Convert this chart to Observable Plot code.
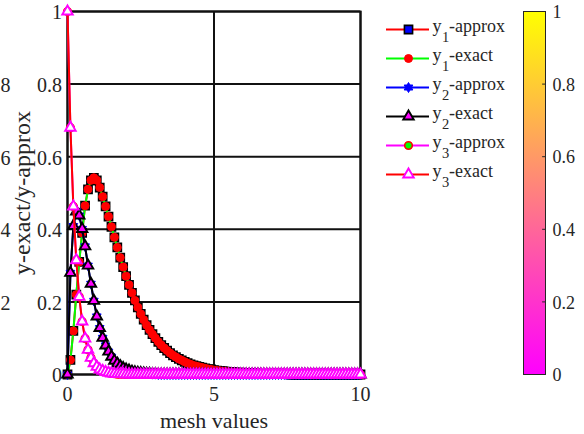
<!DOCTYPE html>
<html><head><meta charset="utf-8">
<script src="https://cdn.jsdelivr.net/npm/d3@7"></script>
<script src="https://cdn.jsdelivr.net/npm/@observablehq/plot@0.6"></script>
<style>
html,body{margin:0;padding:0;background:#fff;}
#wrap{position:relative;width:584px;height:434px;overflow:hidden;background:#fff;}
#wrap svg text, #wrap svg tspan{font-family:'Liberation Serif','Times New Roman',serif !important;}
</style></head><body>
<svg width="0" height="0" style="position:absolute"><defs><linearGradient id="spring" x1="0" y1="1" x2="0" y2="0"><stop offset="0" stop-color="#ff00ff"/><stop offset="1" stop-color="#ffff00"/></linearGradient></defs></svg>
<div id="wrap"></div>
<script>
// ---- data ----
const mesh = [
  0,0.1,0.2,0.3,0.4,0.5,0.6,0.7,0.8,0.9,
  1,1.1,1.2,1.3,1.4,1.5,1.6,1.7,1.8,1.9,
  2,2.1,2.2,2.3,2.4,2.5,2.6,2.7,2.8,2.9,
  3,3.1,3.2,3.3,3.4,3.5,3.6,3.7,3.8,3.9,
  4,4.1,4.2,4.3,4.4,4.5,4.6,4.7,4.8,4.9,
  5,5.1,5.2,5.3,5.4,5.5,5.6,5.7,5.8,5.9,
  6,6.1,6.2,6.3,6.4,6.5,6.6,6.7,6.8,6.9,
  7,7.1,7.2,7.3,7.4,7.5,7.6,7.7,7.8,7.9,
  8,8.1,8.2,8.3,8.4,8.5,8.6,8.7,8.8,8.9,
  9,9.1,9.2,9.3,9.4,9.5,9.6,9.7,9.8,9.9,
  10
];
const y1Exact = [
  0,0.04,0.12,0.22,0.31,0.39,0.465,0.51,0.535,0.542,
  0.535,0.515,0.49,0.463,0.435,0.407,0.378,0.35,0.322,0.296,
  0.271,0.247,0.225,0.204,0.185,0.167,0.151,0.136,0.123,0.111,
  0.100,0.090,0.081,0.073,0.066,0.059,0.053,0.048,0.043,0.039,
  0.035,0.031,0.028,0.025,0.023,0.021,0.019,0.017,0.015,0.014,
  0.012,0.011,0.010,0.009,0.008,0.007,0.007,0.006,0.005,0.005,
  0.004,0.004,0.003,0.003,0.003,0.002,0.002,0.002,0.002,0.001,
  0.001,0.001,0.001,0.001,0.001,0.001,0,0,0,0,
  0,0,0,0,0,0,0,0,0,0,
  0,0,0,0,0,0,0,0,0,0,
  0
];
const y1Approx = y1Exact;
const y2Exact = [
  0,0.280,0.409,0.449,0.438,0.401,0.353,0.300,0.250,0.203,
  0.160,0.128,0.101,0.080,0.063,0.049,0.038,0.030,0.023,0.018,
  0.014,0.011,0.008,0.006,0.005,0.004,0.003,0.002,0.002,0.001,
  0.001,0,0,0,0,0,0,0,0,0,
  0,0,0,0,0,0,0,0,0,0,
  0,0,0,0,0,0,0,0,0,0,
  0,0,0,0,0,0,0,0,0,0,
  0,0,0,0,0,0,0,0,0,0,
  0,0,0,0,0,0,0,0,0,0,
  0,0,0,0,0,0,0,0,0,0,
  0
];
const y2Approx = y2Exact;
const y3Exact = [
  1,0.68,0.463,0.315,0.214,0.146,0.099,0.068,0.046,0.031,
  0.021,0.014,0.010,0.007,0.005,0.003,0.002,0.001,0.001,0.001,
  0,0,0,0,0,0,0,0,0,0,
  0,0,0,0,0,0,0,0,0,0,
  0,0,0,0,0,0,0,0,0,0,
  0,0,0,0,0,0,0,0,0,0,
  0,0,0,0,0,0,0,0,0,0,
  0,0,0,0,0,0,0,0,0,0,
  0,0,0,0,0,0,0,0,0,0,
  0,0,0,0,0,0,0,0,0,0,
  0
];
const y3Approx = y3Exact;
const xTicks = [0, 5, 10];
const yTicks = [0, 0.2, 0.4, 0.6, 0.8, 1];
const cutTicks = [0.2, 0.4, 0.6, 0.8];
const cutLabels = ["2", "4", "6", "8"];
const cbTicks = [0, 0.2, 0.4, 0.6, 0.8, 1];
const seriesNames = ["y1-approx", "y1-exact", "y2-approx", "y2-exact", "y3-approx", "y3-exact"];

// ---- styles ----
const hexagram = {
  draw(ctx, size) {
    const R = Math.sqrt(size / Math.PI) * 1.25, r = R / Math.sqrt(3);
    for (let i = 0; i < 12; i++) {
      const a = Math.PI / 2 + i * Math.PI / 6, rr = i % 2 ? r : R;
      const px = rr * Math.cos(a), py = -rr * Math.sin(a);
      if (i) ctx.lineTo(px, py); else ctx.moveTo(px, py);
    }
    ctx.closePath();
  }
};
const series = [
  {name: seriesNames[0], y: y1Approx, line: "#ff0000", symbol: "square",   r: 4.6, fill: "#0000ff", edge: "#000000", sw: 1.6},
  {name: seriesNames[1], y: y1Exact,  line: "#00ff00", symbol: "circle",   r: 4.0, fill: "#ff0000", edge: "#ff0000", sw: 1},
  {name: seriesNames[2], y: y2Approx, line: "#0000ff", symbol: hexagram,   r: 4.0, fill: "#0000ff", edge: "#0000ff", sw: 1},
  {name: seriesNames[3], y: y2Exact,  line: "#000000", symbol: "triangle", r: 3.9, fill: "#ff00ff", edge: "#000000", sw: 1.9},
  {name: seriesNames[4], y: y3Approx, line: "#ff00ff", symbol: "circle",   r: 3.8, fill: "#00ff00", edge: "#ff0000", sw: 1.6},
  {name: seriesNames[5], y: y3Exact,  line: "#ff0000", symbol: "triangle", r: 3.9, fill: "#ffffff", edge: "#ff00ff", sw: 1.9}
];
const FONT = "'Liberation Serif', 'Times New Roman', serif";
const INK = "#262626";
const fmt = d => String(d);

// ---- main axes ----
const main = Plot.plot({
  width: 584, height: 434,
  marginLeft: 67, marginRight: 224, marginTop: 11, marginBottom: 60,
  x: {domain: [0, 10]},
  y: {domain: [0, 1]},
  style: {fontFamily: FONT, fontSize: "20px", color: INK, background: "transparent", overflow: "hidden"},
  marks: [
    Plot.gridX(xTicks, {stroke: "#111", strokeOpacity: 1, strokeWidth: 2}),
    Plot.gridY(yTicks, {stroke: "#111", strokeOpacity: 1, strokeWidth: 2}),
    Plot.frame({stroke: "#111", strokeWidth: 2}),
    Plot.axisX(xTicks, {tickSize: 0, tickPadding: 12, tickFormat: fmt, label: null, fontSize: 20, fontFamily: FONT}),
    Plot.axisY(yTicks, {tickSize: 0, tickPadding: 5.5, tickFormat: fmt, label: null, fontSize: 20, fontFamily: FONT, dy: 1.5}),
    Plot.text(cutTicks, {y: d => d, text: (d, i) => cutLabels[i], frameAnchor: "left", dx: -67, dy: 1.5, textAnchor: "start", lineAnchor: "middle", fontSize: 20, fontFamily: FONT, fill: INK}),
    ...series.flatMap(s => [
      Plot.line(mesh, {x: mesh, y: s.y, stroke: s.line, strokeWidth: 2}),
      Plot.dot(mesh, {x: mesh, y: s.y, symbol: s.symbol, r: s.r, fill: s.fill, stroke: s.edge, strokeWidth: s.sw})
    ]),
    Plot.text(["y-exact/y-approx"], {frameAnchor: "left", dx: -38, rotate: -90, textAnchor: "middle", lineAnchor: "bottom", fontSize: 24, fontFamily: FONT, fill: INK}),
    Plot.text(["mesh values"], {frameAnchor: "bottom", dy: 53, textAnchor: "middle", lineAnchor: "bottom", fontSize: 22, fontFamily: FONT, fill: INK})
  ]
});
main.style.position = "absolute"; main.style.left = "0px"; main.style.top = "0px";

// ---- legend ----
const legend = Plot.plot({
  width: 140, height: 434, margin: 0,
  x: {type: "identity"},
  y: {type: "point", domain: seriesNames, range: [26.7, 175.3], padding: 0, axis: null},
  style: {fontFamily: FONT, color: INK, background: "transparent"},
  marks: series.flatMap(s => [
    Plot.ruleY([s.name], {y: d => d, x1: 6, x2: 49, stroke: s.line, strokeWidth: 2}),
    Plot.dot([s.name], {y: d => d, x: 28, symbol: s.symbol, r: s.r, fill: s.fill, stroke: s.edge, strokeWidth: s.sw}),
    Plot.text([s.name], {y: d => d, x: 52, text: d => d.slice(0, 1), textAnchor: "start", lineAnchor: "bottom", dy: 2.8, fontSize: 18, fontFamily: FONT, fill: INK}),
    Plot.text([s.name], {y: d => d, x: 61.5, text: d => d.slice(1, 2), textAnchor: "start", lineAnchor: "bottom", dy: 12.8, fontSize: 14.5, fontFamily: FONT, fill: INK}),
    Plot.text([s.name], {y: d => d, x: 68.5, text: d => d.slice(2), textAnchor: "start", lineAnchor: "bottom", dy: 2.8, fontSize: 18, fontFamily: FONT, fill: INK})
  ])
});
legend.style.position = "absolute"; legend.style.left = "380px"; legend.style.top = "0px";

// ---- colorbar ----
const cbar = Plot.plot({
  width: 61, height: 434,
  marginLeft: 0, marginRight: 39, marginTop: 11, marginBottom: 60,
  x: {domain: [0, 1], axis: null},
  y: {domain: [0, 1]},
  style: {fontFamily: FONT, fontSize: "18px", color: INK, background: "transparent"},
  marks: [
    Plot.frame({fill: "url(#spring)", stroke: INK, strokeWidth: 1}),
    Plot.ruleY(cbTicks, {x1: 0.87, x2: 1, stroke: INK, strokeWidth: 1}),
    Plot.axisY(cbTicks, {anchor: "right", tickSize: 0, tickPadding: 7, tickFormat: fmt, label: null, fontSize: 18, fontFamily: FONT, dy: 1})
  ]
});
cbar.style.position = "absolute"; cbar.style.left = "523px"; cbar.style.top = "0px";

const wrap = document.getElementById("wrap");
wrap.appendChild(main);
wrap.appendChild(legend);
wrap.appendChild(cbar);
</script>
</body></html>
